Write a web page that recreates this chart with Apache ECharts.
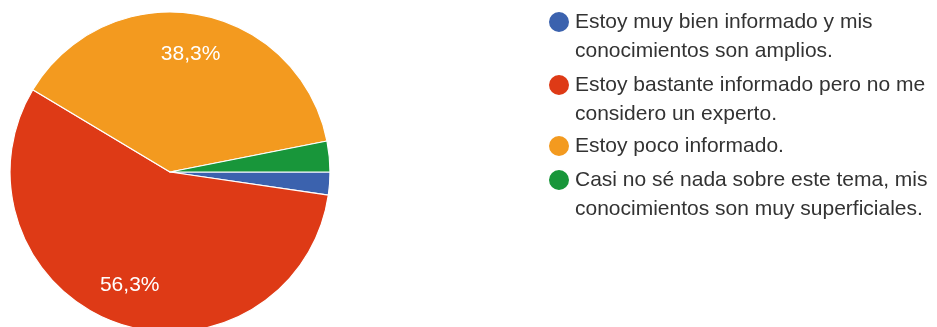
<!DOCTYPE html>
<html>
<head>
<meta charset="utf-8">
<style>
  html, body { margin: 0; padding: 0; background: #fff; }
  #chart { width: 937px; height: 327px; }
</style>
<script src="https://cdn.jsdelivr.net/npm/echarts@6/dist/echarts.min.js"></script>
</head>
<body>
<div id="chart"></div>
<script>
// Survey answers (legend text, wrapped as displayed) and their shares in percent
const answers = [
  'Estoy muy bien informado y mis\nconocimientos son amplios.',
  'Estoy bastante informado pero no me\nconsidero un experto.',
  'Estoy poco informado.',
  'Casi no sé nada sobre este tema, mis\nconocimientos son muy superficiales.'
];
const shares = [2.3, 56.3, 38.3, 3.1];
const sliceColors = ['#3b62ae', '#de3a16', '#f39a1f', '#18963a'];

const FONT = "'Liberation Sans', Arial, sans-serif";
const LINE_H = 29;
const CENTER = [170, 172];
const RADIUS = 160;

const chart = echarts.init(document.getElementById('chart'), null, { renderer: 'canvas' });

const pieData = answers.map((name, i) => ({
  name,
  value: shares[i],
  itemStyle: { color: sliceColors[i] }
}));

// One legend block per answer so the bullet sits beside the first text line
const bulletCenters = [22, 85, 146, 180];
const legends = answers.map((name, i) => {
  const lines = name.split('\n').length;
  // a blank leading line keeps the text block centred on its first line
  const text = lines > 1 ? '\n' + name : name;
  const blockH = (lines > 1 ? lines + 1 : 1) * LINE_H;
  return {
    data: [name],
    orient: 'vertical',
    left: 547,
    top: bulletCenters[i] - blockH / 2,
    icon: 'circle',
    itemWidth: 22,
    itemHeight: 22,
    itemGap: 0,
    padding: 0,
    selectedMode: false,
    formatter: () => text,
    textStyle: {
      fontFamily: FONT,
      fontSize: 21,
      lineHeight: LINE_H,
      color: '#333333',
      padding: [0, 0, 0, 0]
    }
  };
});

chart.setOption({
  animation: false,
  legend: legends,
  series: [
    {
      type: 'pie',
      center: CENTER,
      radius: RADIUS,
      startAngle: 0,
      clockwise: true,
      label: { show: false },
      labelLine: { show: false },
      itemStyle: { borderColor: '#ffffff', borderWidth: 1.2 },
      emphasis: { scale: false },
      data: pieData
    },
    {
      // transparent ring carrying the percentage labels at about 3/4 of the radius
      type: 'pie',
      center: CENTER,
      radius: [74, RADIUS],
      startAngle: 0,
      clockwise: true,
      silent: true,
      legendHoverLink: false,
      itemStyle: { color: 'rgba(0,0,0,0)' },
      labelLine: { show: false },
      label: {
        show: true,
        position: 'inside',
        fontFamily: FONT,
        fontSize: 21,
        color: '#ffffff',
        formatter: p => p.value > 10 ? p.value.toFixed(1).replace('.', ',') + '%' : ''
      },
      data: answers.map((name, i) => ({ name, value: shares[i] }))
    }
  ]
});
</script>
</body>
</html>
